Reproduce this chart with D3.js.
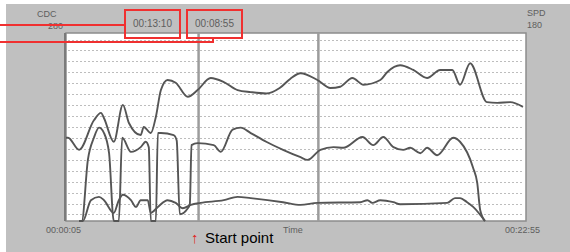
<!DOCTYPE html>
<html>
<head>
<meta charset="utf-8">
<script src="https://cdn.jsdelivr.net/npm/d3@7"></script>
<style>
  html, body { margin: 0; padding: 0; background: #fff; }
  svg { display: block; }
</style>
</head>
<body>
<svg id="chart" width="570" height="252"></svg>
<script>
// time in seconds from 00:00:00, values on the 0..280 scale of the left axis
const timeDomain = [5, 1375];
const valueDomain = [0, 280];
const cursorTimes = [399, 755];
const cursorLabels = ["00:13:10", "00:08:55"];
const axisLabels = { leftTitle: "CDC", leftMax: "280", rightTitle: "SPD", rightMax: "180",
  start: "00:00:05", end: "00:22:55", middle: "Time" };

const topSeries = [
  [5, 124], [11, 124], [44, 106], [88, 150], [109, 161], [118, 153], [147, 118],
  [174, 173], [192, 146], [227, 128], [236, 140], [257, 131], [272, 155], [287, 195],
  [307, 210], [331, 206], [367, 185], [396, 195], [435, 213], [474, 207], [515, 195],
  [554, 192], [600, 190], [640, 198], [672, 212], [702, 220], [752, 210], [791, 198],
  [820, 200], [856, 213], [889, 203], [939, 210], [960, 222], [998, 232], [1037, 225],
  [1078, 213], [1117, 225], [1153, 225], [1176, 203], [1206, 235], [1256, 177],
  [1286, 176], [1325, 177], [1363, 170]
];

const middleSeries = [
  [44, 0], [52, 0], [70, 91], [88, 124], [103, 139], [118, 131], [133, 101], [147, 0],
  [162, 0], [172, 124], [198, 103], [227, 110], [242, 118], [251, 110], [257, 0],
  [272, 0], [278, 131], [287, 131], [325, 128], [334, 120], [343, 10], [367, 19],
  [373, 25], [378, 113], [396, 116], [444, 113], [465, 103], [500, 136], [524, 139],
  [554, 131], [600, 118], [650, 106], [702, 95], [723, 91], [761, 106], [800, 110],
  [829, 109], [886, 125], [918, 113], [948, 125], [978, 110], [1007, 106], [1028, 109],
  [1058, 101], [1078, 109], [1108, 98], [1156, 124], [1176, 118], [1215, 79],
  [1227, 57], [1236, 16], [1250, 0]
];

const bottomSeries = [
  [44, 0], [55, 0], [79, 31], [103, 36], [118, 31], [147, 12], [162, 31], [174, 39],
  [198, 31], [213, 21], [227, 31], [248, 31], [257, 12], [278, 21], [307, 31],
  [331, 27], [352, 19], [376, 24], [405, 27], [474, 31], [515, 36], [554, 34],
  [650, 28], [702, 24], [752, 27], [880, 28], [901, 31], [915, 27], [939, 31],
  [978, 28], [998, 25], [1138, 27], [1161, 34], [1176, 34], [1197, 28], [1215, 21],
  [1250, 0]
];

const gridCount = 17;

const svg = d3.select("#chart");
const plot = { left: 66, right: 526, top: 33, bottom: 221 };

// grey window
svg.append("rect")
  .attr("x", 6).attr("y", 4)
  .attr("width", 564).attr("height", 248)
  .attr("fill", "#c0c0c0");

const x = d3.scaleLinear().domain(timeDomain).range([plot.left, plot.right + 1]);
const y = d3.scaleLinear().domain(valueDomain).range([plot.bottom, plot.top]);

svg.append("rect")
  .attr("x", plot.left).attr("y", plot.top)
  .attr("width", plot.right - plot.left).attr("height", plot.bottom - plot.top)
  .attr("fill", "#fff");

// dotted grid
const grid = d3.scalePoint().domain(d3.range(gridCount))
  .range([plot.bottom, plot.top]).padding(0.6);

svg.append("g")
  .selectAll("line")
  .data(grid.domain())
  .join("line")
  .attr("x1", plot.left + 2).attr("x2", plot.right - 2)
  .attr("y1", d => Math.round(grid(d)) + 0.5)
  .attr("y2", d => Math.round(grid(d)) + 0.5)
  .attr("stroke", "#bdbdbd")
  .attr("stroke-width", 1)
  .attr("stroke-dasharray", "2,2");

// frame
svg.append("rect")
  .attr("x", plot.left).attr("y", plot.top)
  .attr("width", plot.right - plot.left).attr("height", plot.bottom - plot.top)
  .attr("fill", "none")
  .attr("stroke", "#8c8c8c")
  .attr("stroke-width", 1.5);

svg.append("line")
  .attr("x1", plot.left - 1).attr("x2", plot.left - 1)
  .attr("y1", plot.top).attr("y2", plot.bottom)
  .attr("stroke", "#7a7a7a")
  .attr("stroke-width", 2);

// cursors
svg.append("g")
  .selectAll("line")
  .data(cursorTimes)
  .join("line")
  .attr("x1", d => x(d)).attr("x2", d => x(d))
  .attr("y1", plot.top).attr("y2", plot.bottom)
  .attr("stroke", "#9c9c9c")
  .attr("stroke-width", 2.5);

// series
const line = d3.line()
  .x(d => x(d[0]))
  .y(d => y(d[1]))
  .curve(d3.curveMonotoneX);

svg.append("g")
  .attr("fill", "none")
  .attr("stroke", "#555")
  .attr("stroke-width", 1.9)
  .attr("stroke-linejoin", "round")
  .selectAll("path")
  .data([topSeries, middleSeries, bottomSeries])
  .join("path")
  .attr("d", line);

// small grey labels
const small = svg.append("g")
  .attr("font-family", "Liberation Sans, Arial, sans-serif")
  .attr("font-size", 9)
  .attr("fill", "#5e5e5e");

small.append("text").attr("x", 37).attr("y", 17).text(axisLabels.leftTitle);
small.append("text").attr("x", 48).attr("y", 29).text(axisLabels.leftMax);
small.append("text").attr("x", 527).attr("y", 16).text(axisLabels.rightTitle);
small.append("text").attr("x", 527).attr("y", 28).text(axisLabels.rightMax);
small.append("text").attr("x", 46).attr("y", 233).text(axisLabels.start);
small.append("text").attr("x", 505).attr("y", 233).text(axisLabels.end);
small.append("text").attr("x", 283).attr("y", 233).text(axisLabels.middle);

const boxes = [
  { x: 125, w: 55 },
  { x: 187, w: 55 }
];

small.selectAll("text.cursor")
  .data(cursorLabels)
  .join("text")
  .attr("class", "cursor")
  .attr("x", (d, i) => boxes[i].x + boxes[i].w / 2)
  .attr("y", 27)
  .attr("font-size", 10)
  .attr("text-anchor", "middle")
  .text(d => d);

// red call-outs
const red = svg.append("g")
  .attr("fill", "none")
  .attr("stroke", "#f03030")
  .attr("stroke-width", 2);

red.selectAll("rect")
  .data(boxes)
  .join("rect")
  .attr("x", d => d.x).attr("y", 10)
  .attr("width", d => d.w).attr("height", 28);

red.append("path").attr("d", "M0,25H125");
red.append("path").attr("d", "M0,42H213V38");

// annotation
svg.append("text")
  .attr("x", 191).attr("y", 243)
  .attr("font-family", "Liberation Sans, Arial, sans-serif")
  .attr("font-size", 15)
  .attr("fill", "#e02020")
  .text("↑");

svg.append("text")
  .attr("x", 205).attr("y", 243)
  .attr("font-family", "Liberation Sans, Arial, sans-serif")
  .attr("font-size", 15)
  .attr("fill", "#000")
  .text("Start point");
</script>
</body>
</html>
